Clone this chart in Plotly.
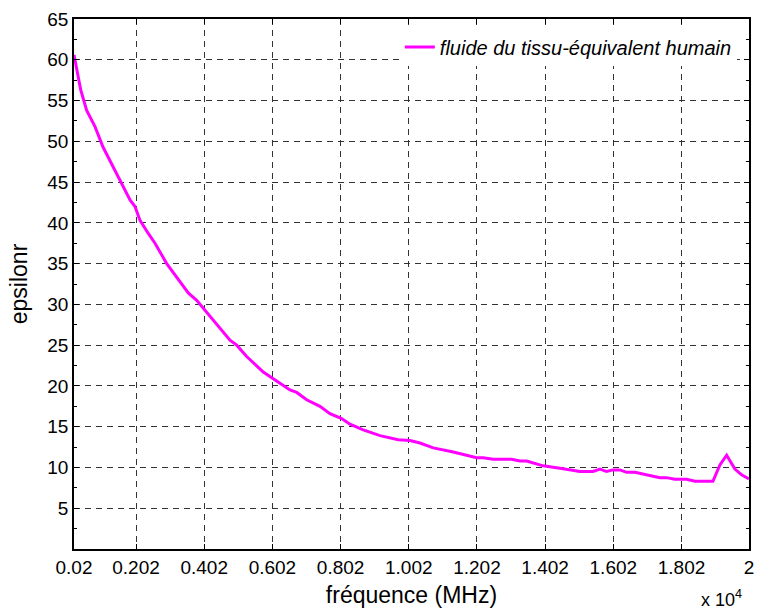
import plotly.graph_objects as go

freq_mhz = [200, 397, 572, 816, 1051, 1344, 1599, 1843, 1989, 2136, 2379, 2576, 2919, 3212,
            3552, 3799, 4189, 4432, 4775, 4972, 5265, 5752, 6045, 6535, 6732, 7025, 7415,
            7708, 8052, 8295, 8685, 9175, 9712, 10055, 10348, 10739, 11325, 12011, 12205,
            12498, 13038, 13281, 13478, 13965, 14454, 14748, 15041, 15422, 15628, 15824,
            16009, 16214, 16411, 16654, 16889, 17388, 17584, 17828, 18171, 18415, 18942,
            19147, 19344, 19588, 19784, 20000]
epsilon_r = [60.6, 56.3, 53.8, 51.8, 49.3, 46.9, 44.9, 42.8, 42.0, 40.3, 38.7, 37.5, 35.0, 33.4,
             31.4, 30.5, 28.5, 27.3, 25.6, 25.0, 23.6, 21.7, 20.9, 19.5, 19.2, 18.3, 17.5,
             16.6, 16.0, 15.3, 14.6, 13.9, 13.4, 13.3, 13.0, 12.4, 11.9, 11.2, 11.2,
             11.0, 11.0, 10.8, 10.8, 10.2, 9.9, 9.7, 9.5, 9.5, 9.8, 9.5,
             9.7, 9.7, 9.4, 9.4, 9.2, 8.75, 8.75, 8.55, 8.55, 8.3, 8.3,
             10.3, 11.5, 9.8, 9.1, 8.6]

x_tickvals = [200, 2020, 4020, 6020, 8020, 10020, 12020, 14020, 16020, 18020, 20000]
x_ticktext = ["0.02", "0.202", "0.402", "0.602", "0.802", "1.002", "1.202", "1.402",
              "1.602", "1.802", "2"]
y_tickvals = [5, 10, 15, 20, 25, 30, 35, 40, 45, 50, 55, 60, 65]

series_name = "fluide du tissu-équivalent humain"

FONT = "Liberation Sans, Arial, sans-serif"

fig = go.Figure()
fig.add_trace(go.Scatter(
    x=freq_mhz, y=epsilon_r, mode="lines", name=series_name,
    line=dict(color="#FF00FF", width=3),
))

axis_common = dict(
    showline=True, linecolor="black", linewidth=1.5, mirror="ticks",
    ticks="inside", ticklen=5, tickcolor="black", tickwidth=1,
    showgrid=True, gridcolor="#333333", gridwidth=1, griddash="6px,5px",
    zeroline=False, ticklabeloverflow="allow", automargin=False,
    tickfont=dict(family=FONT, size=19, color="black"),
)

fig.update_xaxes(
    range=[200, 20000.5], tickmode="array", tickvals=x_tickvals, ticktext=x_ticktext,
    title=dict(text="fréquence (MHz)", font=dict(family=FONT, size=23, color="black"), standoff=10),
    **axis_common,
)
fig.update_yaxes(
    range=[0, 65], tickmode="array", tickvals=y_tickvals,
    title=dict(text="epsilonr", font=dict(family=FONT, size=23, color="black"), standoff=13),
    minor=dict(dtick=2.5, tick0=0, ticks="inside", ticklen=3, tickcolor="black", showgrid=False),
    **axis_common,
)

fig.add_annotation(
    x=0.992, y=-0.118, xref="paper", yref="paper", xanchor="right", yanchor="bottom",
    text="x 10<sup>4</sup>", showarrow=False,
    font=dict(family=FONT, size=18, color="black"),
)

fig.update_layout(
    width=757, height=615,
    margin=dict(l=74, r=8, t=19, b=66),
    plot_bgcolor="white", paper_bgcolor="white",
    showlegend=True,
    legend=dict(
        x=0.982, y=0.984, xanchor="right", yanchor="top",
        bgcolor="white", borderwidth=0,
        font=dict(family=FONT, size=20, color="black", style="italic"),
    ),
)

fig.write_html(
    "out.html",
    config={"displayModeBar": False},
    post_script="document.body.style.margin='0';document.body.style.padding='0';",
)
